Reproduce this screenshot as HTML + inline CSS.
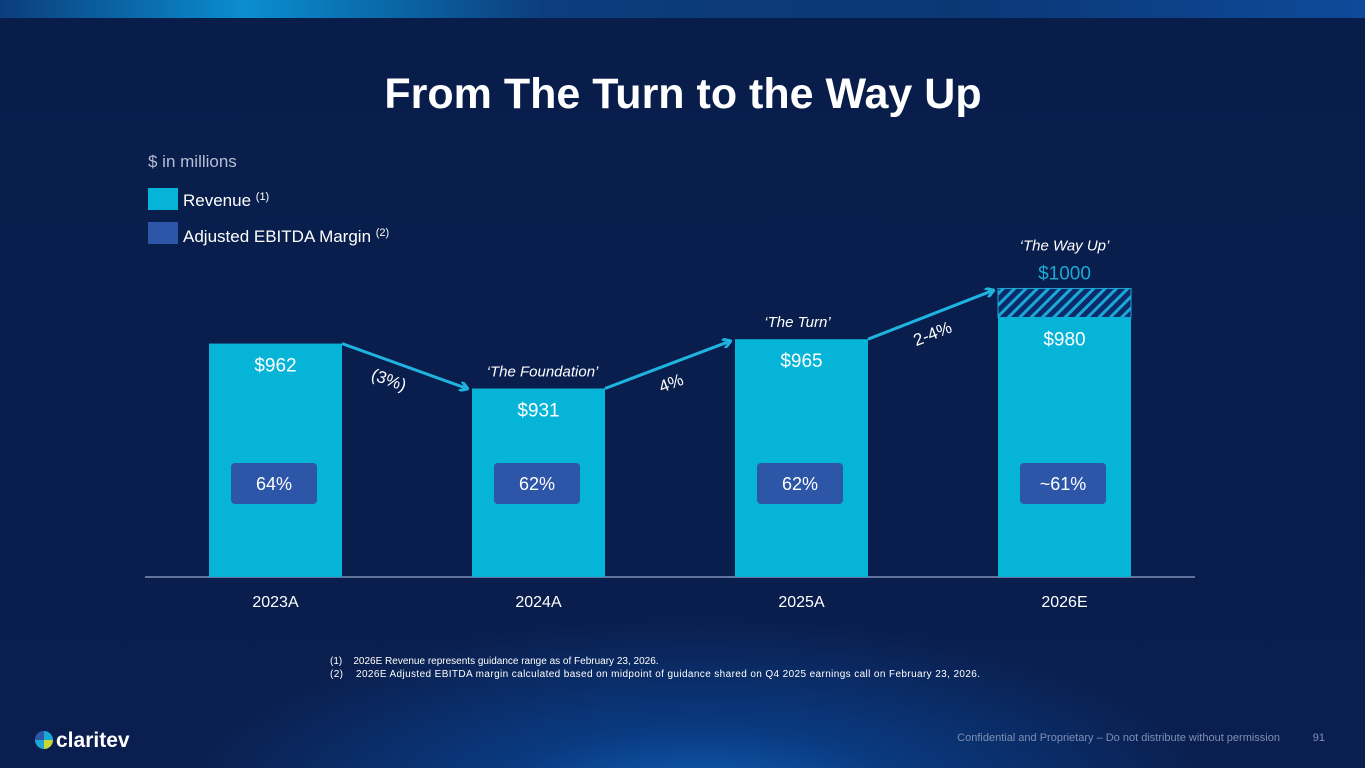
<!DOCTYPE html>
<html><head><meta charset="utf-8"><style>
html,body{margin:0;padding:0}
body{width:1365px;height:768px;overflow:hidden;font-family:"Liberation Sans",sans-serif;
background:radial-gradient(ellipse 520px 180px at 700px 800px,#0f5fb8 0%,#0a3a80 40%,rgba(10,30,80,0) 100%),linear-gradient(#081d4a,#0a1f4f);position:relative}
#topbar{position:absolute;left:0;top:0;width:1365px;height:18px;background:linear-gradient(90deg,#0c3d7c 0%,#0a8ecf 18%,#0c3d7c 40%,#0b3775 70%,#0e4a9a 100%)}
</style></head><body>
<div id="topbar"></div>
<svg width="1365" height="768" style="position:absolute;left:0;top:0">
<defs><pattern id="hatch" width="8" height="8" patternUnits="userSpaceOnUse" patternTransform="rotate(45)">
<rect width="8" height="8" fill="#0a2a6a"/><rect width="3" height="8" fill="#1aa8d6"/></pattern>
<marker id="ah" markerWidth="10" markerHeight="10" refX="8" refY="5" orient="auto" markerUnits="userSpaceOnUse"><path d="M1,0 L9,5 L1,10" fill="none" stroke="#1fb4e0" stroke-width="3"/></marker></defs>
<text x="683" y="108" text-anchor="middle" fill="#fff" font-size="43" font-weight="bold">From The Turn to the Way Up</text>
<text x="148" y="167" fill="#b7bfd4" font-size="17">$ in millions</text>
<rect x="148" y="188" width="30" height="22" fill="#06b4d8"/>
<text x="183" y="206" fill="#fff" font-size="17">Revenue <tspan font-size="11" dy="-6">(1)</tspan></text>
<rect x="148" y="222" width="30" height="22" fill="#2d55a8"/>
<text x="183" y="242" fill="#fff" font-size="17">Adjusted EBITDA Margin <tspan font-size="11" dy="-6">(2)</tspan></text>
<line x1="145" y1="577" x2="1195" y2="577" stroke="#8090b8" stroke-width="1.5"/>
<g id="g"></g>
<text x="330" y="664" fill="#fff" font-size="10">(1)&#160;&#160;&#160;&#160;2026E Revenue represents guidance range as of February 23, 2026.</text>
<text x="330" y="677" fill="#fff" font-size="10" textLength="650">(2)&#160;&#160;&#160;&#160;2026E Adjusted EBITDA margin calculated  based on midpoint of guidance shared on Q4 2025 earnings call on February 23, 2026.</text>
<g>
<circle cx="44" cy="740" r="9" fill="#1aa8d6"/><path d="M44,740 L44,731 A9,9 0 0,0 35,740Z" fill="#2d55a8"/><path d="M44,740 L53,740 A9,9 0 0,1 44,749Z" fill="#c8d830"/>
<text x="56" y="747" fill="#fff" font-size="21" font-weight="bold">claritev</text></g>
<text x="1280" y="741" text-anchor="end" fill="#7f8fb5" font-size="11">Confidential and Proprietary – Do not distribute without permission</text>
<text x="1325" y="741" text-anchor="end" fill="#7f8fb5" font-size="11">91</text>
</svg>
<script>
const categories=["2023A","2024A","2025A","2026E"];
const revenue=[962,931,965,980];
const revenueHigh=[null,null,null,1000];
const margins=["64%","62%","62%","~61%"];
const growth=["(3%)","4%","2-4%"];
const tags=["","‘The Foundation’","‘The Turn’","‘The Way Up’"];
const NS="http://www.w3.org/2000/svg",g=document.getElementById("g");
const y=v=>577-(v-801)*1.45, x=i=>209+i*263, W=133;
function el(t,a,txt){const e=document.createElementNS(NS,t);for(const k in a)e.setAttribute(k,a[k]);if(txt)e.textContent=txt;g.appendChild(e);return e;}
categories.forEach((c,i)=>{
 if(revenueHigh[i]!=null){const h=el("rect",{x:x(i),y:y(revenueHigh[i]),width:W,height:y(revenue[i])-y(revenueHigh[i]),fill:"url(#hatch)",stroke:"#1aa8d6"});
 
 
 const t=el("text",{x:x(i)+W/2,y:y(revenueHigh[i])-9,"text-anchor":"middle",fill:"#1aa8d6","font-size":19},"$"+revenueHigh[i]);
 
 }
 const b=el("rect",{x:x(i),y:y(revenue[i]),width:W,height:577-y(revenue[i]),fill:"#06b4d8"});
 
 
 const v=el("text",{x:x(i)+W/2,y:y(revenue[i])+28,"text-anchor":"middle",fill:"#fff","font-size":19},"$"+revenue[i]);
 
 
 const m=el("rect",{x:x(i)+22,y:463,width:86,height:41,rx:4,fill:"#2d55a8"});
 
 
 const mt=el("text",{x:x(i)+65,y:490,"text-anchor":"middle",fill:"#fff","font-size":18},margins[i]);
 
 
 const cl=el("text",{x:x(i)+W/2,y:607,"text-anchor":"middle",fill:"#fff","font-size":16},c);
 
 
 if(tags[i]){const top=revenueHigh[i]!=null?y(revenueHigh[i])-38:y(revenue[i])-12;
 const tg=el("text",{x:x(i)+W/2+(i==1?4:i==2?-4:0),y:top,"text-anchor":"middle",fill:"#fff","font-size":15,"font-style":"italic"},tags[i]);
 
 }
});
growth.forEach((gr,i)=>{
 const x1=x(i)+W,y1=y(revenue[i]),x2=x(i+1)-5,y2=y(revenueHigh[i+1]!=null?revenueHigh[i+1]:revenue[i+1])+(i==0?0:2);
 const l=el("line",{x1,y1,x2,y2,stroke:"#1fb4e0","stroke-width":3,"marker-end":"url(#ah)"});
 
 
 const mx=(x1+x2)/2,my=(y1+y2)/2,ang=Math.atan2(y2-y1,x2-x1)*180/Math.PI;
 const t=el("text",{x:mx+(i==0?-10:i==1?-3:-5),y:my+(i==0?24:24),"text-anchor":"middle",fill:"#fff","font-size":17,transform:`rotate(${ang} ${mx} ${my})`},gr);
 
 
});
</script>
</body></html>
